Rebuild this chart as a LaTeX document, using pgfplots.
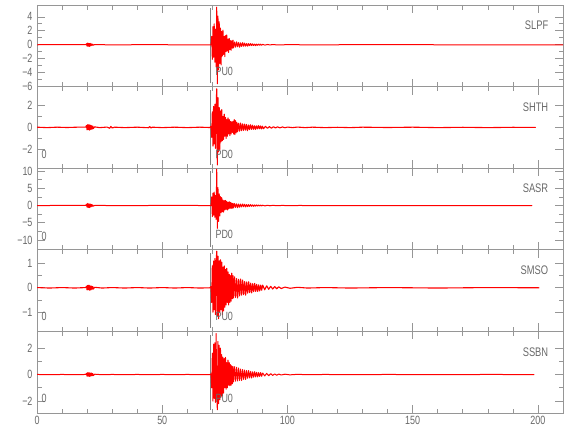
\documentclass[border=0pt]{standalone}
\usepackage{fontspec}
\setmainfont{Liberation Sans}[FakeStretch=0.75]
\usepackage{pgfplots}
\pgfplotsset{compat=1.18}
\definecolor{axcol}{RGB}{150,150,150}
\definecolor{txtcol}{RGB}{105,105,105}
\definecolor{pickcol}{RGB}{130,130,130}
\pgfplotsset{
  seis/.style={
    width=526bp, height=81.6bp, scale only axis,
    anchor=north west,
    xmin=0, xmax=210,
    xtick={0,50,100,150,200}, minor x tick num=4,
    minor y tick num=1,
    tick align=inside, xtick pos=both, ytick pos=both,
    axis line style={axcol, line width=0.7pt},
    major tick style={axcol, line width=0.7pt},
    minor tick style={axcol, line width=0.7pt},
    major tick length=8bp, minor tick length=4.5bp,
    tick label style={font=\fontsize{12}{12}\selectfont, text=txtcol},
    xticklabels={},
    yticklabel style={xshift=-1bp},
  },
  trace/.style={color=red, line width=1bp, line join=round, line cap=round},
}
\newcommand\stalab{\fontsize{12.5}{12.5}\selectfont}
\newcommand\phlab{\fontsize{12}{12}\selectfont}
\begin{document}
\begin{tikzpicture}
% ---------------- SLPF
\begin{axis}[seis, at={(0bp,0bp)}, ymin=-6, ymax=5.7,
  ytick={-6,-4,-2,0,2,4}, yticklabels={−6,−4,−2,0,2,4}]
\addplot[pickcol, line width=0.8bp] coordinates {(69.3,-5.5)(69.3,5.2)};
\addplot[trace] coordinates {
(0,0)(19.5,0.02)(19.75,0.15)(20.0,-0.2)(20.25,0.25)(20.5,-0.22)(20.75,0.18)(21.0,-0.25)(21.25,0.2)(21.5,-0.15)(21.75,0.12)(22.0,-0.1)(22.25,0.08)(22.5,-0.06)(23,0.03)(30,-0.02)(45,0.02)(60,-0.02)(69.5,0)
(69.75,1.2)(70.0,-2.1)(70.25,2.6)(70.5,-1.8)(70.75,3.0)(71.0,-2.5)(71.25,2.2)(71.5,-3.2)(71.75,5.4)(72.0,-5.6)(72.25,4.1)(72.5,-3.6)(72.75,3.3)(73.0,-2.7)(73.25,2.4)(73.5,-2.9)(73.75,1.9)(74.0,-1.6)(74.25,2.1)(74.5,-1.4)(74.75,1.2)(75.0,-1.7)(75.25,1.3)(75.5,-1.0)(75.75,1.4)(76.0,-0.9)(76.25,0.8)(76.5,-1.1)(76.75,0.9)(77.0,-0.7)(77.25,0.6)(77.5,-0.8)(77.75,0.55)(78.0,-0.5)(78.25,0.65)(78.5,-0.45)
(78.9,0.4)(79.3,-0.35)(79.7,0.42)(80.1,-0.3)(80.5,0.33)(80.9,-0.36)(81.3,0.28)(81.7,-0.25)(82.1,0.3)(82.5,-0.22)(82.9,0.24)(83.3,-0.2)(83.7,0.18)(84.1,-0.21)(84.5,0.16)(84.9,-0.14)(85.3,0.17)(85.7,-0.12)(86.1,0.13)(86.5,-0.11)(86.9,0.1)(87.3,-0.12)(87.7,0.09)(88.1,-0.08)(88.5,0.1)(88.9,-0.07)(89.3,0.08)(89.7,-0.07)(90.1,0.06)
(91,-0.05)(92,0.04)(93,-0.03)(94,0.03)(96,-0.02)(100,0.01)(110,-0.01)(130,0.01)(160,0)(210,0)};
\node[anchor=east, font=\stalab, text=txtcol] at ({axis cs:205.5,0}|-{rel axis cs:0,0.75}) {SLPF};
\node[anchor=west, font=\phlab, text=txtcol, inner sep=0pt] at ({axis cs:71.2,0}|-{rel axis cs:0,0.19}) {PU0};
\end{axis}
% ---------------- SHTH
\begin{axis}[seis, at={(0bp,-81.6bp)}, ymin=-3.7, ymax=3.7,
  ytick={-2,0,2}, yticklabels={−2,0,2}]
\addplot[pickcol, line width=0.8bp] coordinates {(69.3,-3.4)(69.3,3.4)};
\addplot[trace, line width=1.1bp] coordinates {
(0,0.02)(4,-0.02)(8,0.02)(12,-0.01)(16,0.02)(19.5,0.03)
(19.75,0.18)(20.0,-0.22)(20.25,0.25)(20.5,-0.2)(20.75,0.24)(21.0,-0.25)(21.25,0.2)(21.5,-0.18)(21.75,0.15)(22.0,-0.16)(22.25,0.12)(22.5,-0.1)(23,0.05)
(25,-0.02)(28,0.03)(29,-0.08)(29.5,0.09)(30,-0.05)(31,0.02)(35,-0.02)(40,0.02)(44.5,-0.03)(45,0.07)(45.5,-0.05)(46,0.02)(50,-0.02)(55,0.02)(60,-0.02)(65,0.02)(69,-0.01)
(69.5,0.1)(69.75,-0.9)(70.0,1.4)(70.25,-1.7)(70.5,1.9)(70.75,-1.5)(71.0,2.1)(71.25,-1.9)(71.5,1.6)(71.75,3.5)(72.0,-3.4)(72.25,2.7)(72.5,-2.2)(72.75,1.8)(73.0,-2.0)(73.25,1.5)(73.5,-1.3)(73.75,1.6)(74.0,-1.2)(74.25,1.0)(74.5,-1.1)(74.75,1.2)(75.0,-0.8)(75.25,0.9)(75.5,-1.0)(75.75,0.7)(76.0,-0.8)(76.25,0.85)(76.5,-0.6)(76.75,0.7)(77.0,-0.75)(77.25,0.55)(77.5,-0.6)(77.75,0.5)(78.0,-0.45)(78.25,0.55)(78.5,-0.6)(78.75,0.7)(79.0,-0.65)(79.25,0.6)(79.5,-0.5)(79.75,0.45)(80.0,-0.4)
(80.4,0.38)(80.8,-0.35)(81.2,0.4)(81.6,-0.3)(82.0,0.32)(82.4,-0.28)(82.8,0.3)(83.2,-0.25)(83.6,0.27)(84.0,-0.3)(84.4,0.22)(84.8,-0.2)(85.2,0.24)(85.6,-0.18)(86.0,0.2)(86.4,-0.17)(86.8,0.15)(87.2,-0.18)(87.6,0.14)(88.0,-0.13)(88.4,0.16)(88.8,-0.12)(89.2,0.13)(89.6,-0.14)(90.0,0.11)(90.4,-0.12)
(91.2,0.09)(92,-0.08)(92.8,0.07)(93.6,-0.07)(94.4,0.06)(95.2,-0.05)(96,0.05)(97,-0.04)(98,0.04)(99,-0.03)(100,0.03)(102,-0.02)(104,0.03)(107,-0.02)(110,0.02)(115,-0.02)(120,0.01)(125,-0.02)(130,0.02)(140,-0.01)(150,0.02)(160,-0.02)(170,0.01)(180,-0.02)(190,0.01)(199,0)};
\node[anchor=east, font=\stalab, text=txtcol] at ({axis cs:205.5,0}|-{rel axis cs:0,0.75}) {SHTH};
\node[anchor=west, font=\phlab, text=txtcol, inner sep=0pt] at ({axis cs:71.2,0}|-{rel axis cs:0,0.17}) {PD0};
\node[font=\phlab, text=txtcol, inner sep=0pt] at ({axis cs:2.8,0}|-{rel axis cs:0,0.17}) {0};
\end{axis}
% ---------------- SASR
\begin{axis}[seis, at={(0bp,-163.2bp)}, ymin=-12.8, ymax=10.8,
  ytick={-10,-5,0,5,10}, yticklabels={−10,−5,0,5,10}]
\addplot[pickcol, line width=0.8bp] coordinates {(69.3,-11.9)(69.3,9.9)};
\addplot[trace] coordinates {
(0,0)(19.5,0.05)(19.75,0.4)(20.0,-0.5)(20.25,0.6)(20.5,-0.55)(20.75,0.5)(21.0,-0.6)(21.25,0.45)(21.5,-0.4)(21.75,0.3)(22.0,-0.25)(22.25,0.2)(22.5,-0.15)(23,0.05)(35,-0.05)(50,0.05)(69.5,0)
(69.75,2.5)(70.0,-3.2)(70.25,3.6)(70.5,-2.8)(70.75,3.9)(71.0,-3.4)(71.25,2.9)(71.5,-4.0)(71.75,10.5)(72.0,-6.6)(72.25,5.2)(72.5,-4.6)(72.75,3.4)(73.0,-3.0)(73.25,2.6)(73.5,-2.1)(73.75,2.3)(74.0,-1.8)(74.25,1.6)(74.5,-1.9)(74.75,1.4)(75.0,-1.3)(75.25,1.5)(75.5,-1.1)(75.75,1.2)(76.0,-1.3)(76.25,0.9)(76.5,-1.0)(76.75,1.1)(77.0,-0.8)(77.25,0.9)(77.5,-0.85)(77.75,0.7)(78.0,-0.75)(78.25,0.6)(78.5,-0.7)
(78.9,0.6)(79.3,-0.55)(79.7,0.5)(80.1,-0.6)(80.5,0.45)(80.9,-0.5)(81.3,0.42)(81.7,-0.4)(82.1,0.45)(82.5,-0.35)(82.9,0.38)(83.3,-0.4)(83.7,0.3)(84.1,-0.33)(84.5,0.28)(84.9,-0.25)(85.3,0.27)(85.7,-0.22)(86.1,0.2)(86.5,-0.22)(86.9,0.18)(87.3,-0.16)(87.7,0.17)(88.1,-0.14)(88.5,0.15)(88.9,-0.12)(89.3,0.13)(89.7,-0.11)(90.1,0.1)
(91,-0.1)(92,0.08)(93,-0.07)(94,0.06)(96,-0.05)(98,0.04)(100,-0.03)(105,0.02)(110,-0.02)(130,0.01)(160,0)(197.6,0)};
\node[anchor=east, font=\stalab, text=txtcol] at ({axis cs:205.5,0}|-{rel axis cs:0,0.75}) {SASR};
\node[anchor=west, font=\phlab, text=txtcol, inner sep=0pt] at ({axis cs:71.2,0}|-{rel axis cs:0,0.19}) {PD0};
\node[font=\phlab, text=txtcol, inner sep=0pt] at ({axis cs:2.8,0}|-{rel axis cs:0,0.17}) {0};
\end{axis}
% ---------------- SMSO
\begin{axis}[seis, at={(0bp,-244.8bp)}, ymin=-1.79, ymax=1.56,
  ytick={-1,0,1}, yticklabels={−1,0,1}]
\addplot[pickcol, line width=0.8bp] coordinates {(69.3,-1.66)(69.3,1.43)};
\addplot[trace, line width=1.1bp] coordinates {
(0,0.01)(5,-0.01)(10,0.01)(15,-0.01)(19.5,0.01)
(19.75,0.07)(20.0,-0.09)(20.25,0.1)(20.5,-0.08)(20.75,0.11)(21.0,-0.1)(21.25,0.08)(21.5,-0.09)(21.75,0.07)(22.0,-0.06)(22.25,0.05)(22.5,-0.05)(23,0.02)
(26,-0.01)(30,0.01)(35,-0.01)(40,0.01)(45,-0.01)(50,0.01)(55,-0.01)(60,0.01)(65,-0.01)(69,0)
(69.5,0.05)(69.75,-0.6)(70.0,0.9)(70.25,-1.0)(70.5,1.1)(70.75,-0.9)(71.0,1.2)(71.25,-1.1)(71.5,0.95)(71.75,1.5)(72.0,-1.15)(72.25,1.3)(72.5,-1.27)(72.75,1.1)(73.0,-1.0)(73.25,1.15)(73.5,-0.9)(73.75,1.05)(74.0,-1.1)(74.25,0.85)(74.5,-0.95)(74.75,0.9)(75.0,-0.8)(75.25,0.75)(75.5,-0.7)(75.75,0.8)(76.0,-0.6)(76.25,0.65)(76.5,-0.7)(76.75,0.55)(77.0,-0.6)(77.25,0.5)(77.5,-0.55)(77.75,0.6)(78.0,-0.45)(78.25,0.5)(78.5,-0.42)
(78.9,0.45)(79.3,-0.4)(79.7,0.38)(80.1,-0.42)(80.5,0.35)(80.9,-0.33)(81.3,0.36)(81.7,-0.3)(82.1,0.32)(82.5,-0.28)(82.9,0.26)(83.3,-0.3)(83.7,0.24)(84.1,-0.22)(84.5,0.25)(84.9,-0.2)(85.3,0.19)(85.7,-0.21)(86.1,0.17)(86.5,-0.16)(86.9,0.18)(87.3,-0.15)(87.7,0.14)(88.1,-0.15)(88.5,0.12)(88.9,-0.13)(89.3,0.11)(89.7,-0.1)(90.1,0.11)
(90.9,-0.08)(91.7,0.08)(92.5,-0.06)(93.3,0.06)(94.1,-0.05)(94.9,0.05)(95.7,-0.04)(96.5,0.04)(97.5,-0.03)(99,0.03)(101,-0.02)(104,0.02)(108,-0.01)(115,0.01)(125,-0.01)(140,0.01)(160,-0.01)(180,0.01)(200.4,0)};
\node[anchor=east, font=\stalab, text=txtcol] at ({axis cs:205.5,0}|-{rel axis cs:0,0.75}) {SMSO};
\node[anchor=west, font=\phlab, text=txtcol, inner sep=0pt] at ({axis cs:71.2,0}|-{rel axis cs:0,0.18}) {PU0};
\node[font=\phlab, text=txtcol, inner sep=0pt] at ({axis cs:2.8,0}|-{rel axis cs:0,0.18}) {0};
\end{axis}
% ---------------- SSBN
\begin{axis}[seis, at={(0bp,-326.4bp)}, ymin=-2.9, ymax=3.26,
  ytick={-2,0,2}, yticklabels={−2,0,2},
  xticklabels={0,50,100,150,200}]
\addplot[pickcol, line width=0.8bp] coordinates {(69.3,-2.65)(69.3,3.0)};
\addplot[trace] coordinates {
(0,0.01)(5,-0.01)(10,0.01)(15,-0.01)(19.5,0.01)
(19.75,0.1)(20.0,-0.13)(20.25,0.15)(20.5,-0.12)(20.75,0.15)(21.0,-0.14)(21.25,0.12)(21.5,-0.11)(21.75,0.12)(22.0,-0.09)(22.25,0.08)(22.5,-0.07)(23,0.03)
(26,-0.01)(30,0.01)(35,-0.01)(40,0.01)(45,-0.01)(50,0.01)(55,-0.01)(60,0.01)(65,-0.01)(69,0)
(69.5,0.05)(69.75,-1.0)(70.0,1.6)(70.25,-2.0)(70.5,2.3)(70.75,-1.8)(71.0,2.4)(71.25,-2.1)(71.5,3.1)(71.75,-1.6)(72.0,-2.65)(72.25,2.5)(72.5,-2.2)(72.75,2.2)(73.0,-1.9)(73.25,2.0)(73.5,-1.7)(73.75,1.5)(74.0,-1.6)(74.25,1.3)(74.5,-1.4)(74.75,1.2)(75.0,-1.0)(75.25,1.3)(75.5,-1.1)(75.75,0.9)(76.0,-1.0)(76.25,1.1)(76.5,-0.8)(76.75,0.9)(77.0,-0.85)(77.25,0.75)(77.5,-0.8)(77.75,0.65)(78.0,-0.7)(78.25,0.6)(78.5,-0.55)
(78.9,0.6)(79.3,-0.5)(79.7,0.55)(80.1,-0.48)(80.5,0.5)(80.9,-0.45)(81.3,0.42)(81.7,-0.45)(82.1,0.38)(82.5,-0.36)(82.9,0.34)(83.3,-0.37)(83.7,0.3)(84.1,-0.28)(84.5,0.3)(84.9,-0.25)(85.3,0.24)(85.7,-0.26)(86.1,0.21)(86.5,-0.2)(86.9,0.22)(87.3,-0.18)(87.7,0.17)(88.1,-0.18)(88.5,0.15)(88.9,-0.14)(89.3,0.15)(89.7,-0.13)(90.1,0.12)
(90.9,-0.1)(91.7,0.09)(92.5,-0.08)(93.3,0.07)(94.1,-0.06)(94.9,0.05)(95.7,-0.05)(96.5,0.04)(97.5,-0.03)(99,0.03)(101,-0.02)(104,0.02)(108,-0.01)(115,0.01)(125,-0.01)(140,0.01)(160,-0.01)(180,0.01)(198.4,0)};
\node[anchor=east, font=\stalab, text=txtcol] at ({axis cs:205.5,0}|-{rel axis cs:0,0.75}) {SSBN};
\node[anchor=west, font=\phlab, text=txtcol, inner sep=0pt] at ({axis cs:71.2,0}|-{rel axis cs:0,0.18}) {PU0};
\node[font=\phlab, text=txtcol, inner sep=0pt] at ({axis cs:2.8,0}|-{rel axis cs:0,0.18}) {0};
\end{axis}
\pgfresetboundingbox
\path (-37bp,-435bp) rectangle (543bp,5bp);
\end{tikzpicture}
\end{document}
